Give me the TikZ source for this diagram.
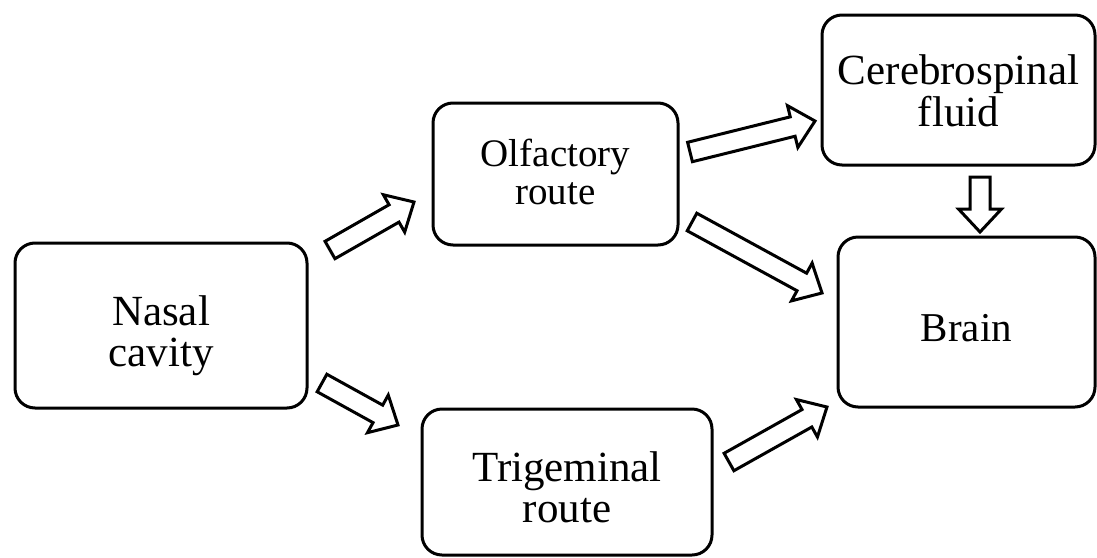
\documentclass[tikz,border=0pt]{standalone}
\usepackage{fontspec}
\setmainfont{Liberation Serif}
\usetikzlibrary{calc}
\tikzset{
  box/.style={draw, line width=3pt, rounded corners=20pt, inner sep=0pt},
  txt/.style={inner sep=0pt, align=center, font=\fontsize{43}{41}\selectfont},
  barrow/.style={draw, line width=3pt, line join=miter, fill=white}
}
\newcommand\blockarr[2]{%
  \draw[barrow] let \p1=(#1), \p2=(#2), \n1={atan2(\y2-\y1,\x2-\x1)}, \n2={veclen(\x2-\x1,\y2-\y1)} in
  [shift={(\x1,\y1)}, rotate=\n1] (0,-10) -- ({\n2-23},-10) -- ({\n2-23},-21.5) -- (\n2,0) -- ({\n2-23},21.5) -- ({\n2-23},10) -- (0,10) -- cycle;}
\begin{document}
\begin{tikzpicture}[x=1pt,y=-1pt]
\useasboundingbox[fill=white] (0,0) rectangle (1097,557);
\node[box, minimum width=292pt, minimum height=165pt] (nasal) at (161,325.5) {};
\node[box, minimum width=245pt, minimum height=142pt] (olf) at (555.5,174) {};
\node[box, minimum width=290pt, minimum height=146pt] (tri) at (567,482) {};
\node[box, minimum width=273pt, minimum height=150pt] (csf) at (958.5,90) {};
\node[box, minimum width=257pt, minimum height=170pt] (brain) at (966.5,322) {};
\node[txt] (nasalt) at ($(nasal.center)+(0,10)$) {Nasal\\cavity};
\node[txt, font=\fontsize{39}{38}\selectfont] (olft) at ($(olf.center)+(0,-2)$) {Olfactory\\route};
\node[txt] (trit) at ($(tri.center)+(0,5)$) {Trigeminal\\route};
\node[txt, font=\fontsize{43}{42}\selectfont] (csft) at ($(csf.center)+(0,1)$) {Cerebrospinal\\fluid};
\node[txt, font=\fontsize{41}{41}\selectfont] (braint) at ($(brain.center)+(0,6)$) {Brain};
\coordinate (a1s) at (330,250); \coordinate (a1e) at (414,202);
\coordinate (a2s) at (322,383); \coordinate (a2e) at (398,425);
\coordinate (a3s) at (690,152); \coordinate (a3e) at (815,121);
\coordinate (a4s) at (692,222); \coordinate (a4e) at (822,293);
\coordinate (a5s) at (729,462); \coordinate (a5e) at (827,407);
\coordinate (a6s) at (980,177); \coordinate (a6e) at (980,232);
\blockarr{a1s}{a1e}
\blockarr{a2s}{a2e}
\blockarr{a3s}{a3e}
\blockarr{a4s}{a4e}
\blockarr{a5s}{a5e}
\blockarr{a6s}{a6e}
\end{tikzpicture}
\end{document}
